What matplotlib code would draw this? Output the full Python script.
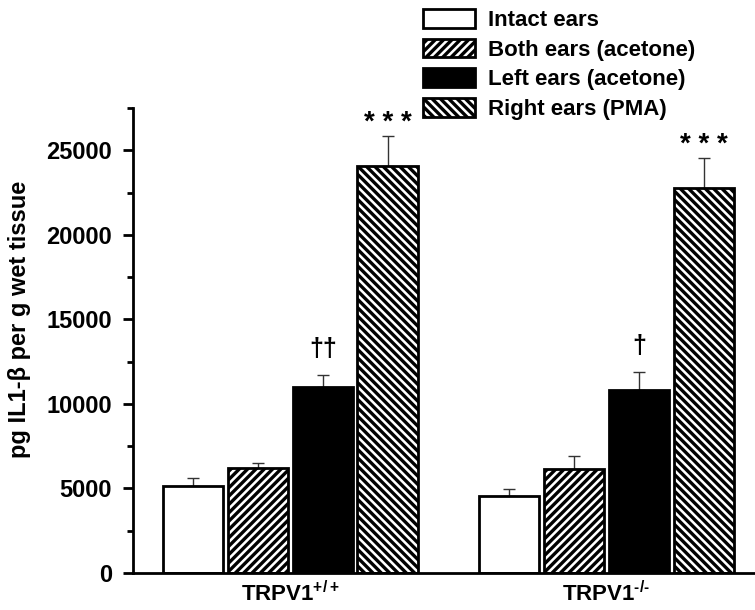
import numpy as np
import matplotlib
matplotlib.use('Agg')
import matplotlib.pyplot as plt
from matplotlib.ticker import MultipleLocator

plt.rcParams['font.family'] = ['Liberation Sans', 'DejaVu Sans']
plt.rcParams['font.weight'] = 'bold'
plt.rcParams['mathtext.default'] = 'regular'
plt.rcParams['hatch.linewidth'] = 2.4
plt.rcParams['hatch.color'] = 'black'

# data
groups = ['TRPV1$^{+/+}$', 'TRPV1$^{\u2010/\u2010}$']
series = ['Intact ears', 'Both ears (acetone)', 'Left ears (acetone)', 'Right ears (PMA)']
intact = [5140, 4550]
intact_err = [475, 415]
both = [6200, 6150]
both_err = [300, 770]
left = [10990, 10820]
left_err = [710, 1060]
right = [24050, 22750]
right_err = [1780, 1830]
marks_left = ['\u2020\u2020', '\u2020']
marks_right = ['* * *', '* * *']

values = [intact, both, left, right]
errors = [intact_err, both_err, left_err, right_err]
faces = ['white', 'white', 'black', 'white']
hatches = [None, '////', None, '\\\\\\\\']

fig = plt.figure(figsize=(7.55, 6.1), dpi=100)
ax = fig.add_axes([0.176, 0.0607, 0.824, 0.762])

x = np.arange(len(groups))
width = 0.19
step = 0.205
offsets = (np.arange(4) - 1.5) * step

for i in range(4):
    ax.bar(x + offsets[i], values[i], width, color=faces[i], edgecolor='black',
           linewidth=2, hatch=hatches[i], label=series[i], zorder=2)
    ax.errorbar(x + offsets[i], values[i], yerr=[np.zeros(len(x)), errors[i]],
                fmt='none', ecolor='#333333', elinewidth=1, capsize=4, capthick=1, zorder=1)

# significance marks
for g in range(len(groups)):
    ax.annotate(marks_left[g], (x[g] + offsets[2], left[g] + left_err[g]),
                xytext=(0, 10), textcoords='offset points', ha='center', va='bottom',
                fontsize=18, fontweight='bold')
    ax.annotate(marks_right[g], (x[g] + offsets[3], right[g] + right_err[g]),
                xytext=(0, 0), textcoords='offset points', ha='center', va='bottom',
                fontsize=20, fontweight='bold')

ax.set_xlim(-0.498, 1.47)
ax.set_ylim(0, 27500)
ax.yaxis.set_major_locator(MultipleLocator(5000))
ax.yaxis.set_minor_locator(MultipleLocator(2500))
ax.set_xticks(x)
ax.set_xticklabels(groups, fontsize=16, fontweight='bold')
ax.tick_params(axis='x', length=0, pad=6)
ax.tick_params(axis='y', which='major', length=7, width=2, pad=8, labelsize=17)
ax.tick_params(axis='y', which='minor', length=4, width=2)
for lab in ax.get_yticklabels():
    lab.set_fontweight('bold')

for s in ['top', 'right']:
    ax.spines[s].set_visible(False)
for s in ['left', 'bottom']:
    ax.spines[s].set_linewidth(2)

ax.set_ylabel('pg IL1-\u03b2 per g wet tissue', fontsize=17, fontweight='bold')
ax.yaxis.set_label_coords(-0.163, 0.546)

fig.legend(loc='upper left', bbox_to_anchor=(0.560, 0.985), frameon=False,
           borderpad=0, borderaxespad=0, handlelength=2.35, handleheight=0.9,
           handletextpad=0.6, labelspacing=0.35, prop={'size': 16, 'weight': 'bold'})

plt.savefig('out.png', dpi=100)
